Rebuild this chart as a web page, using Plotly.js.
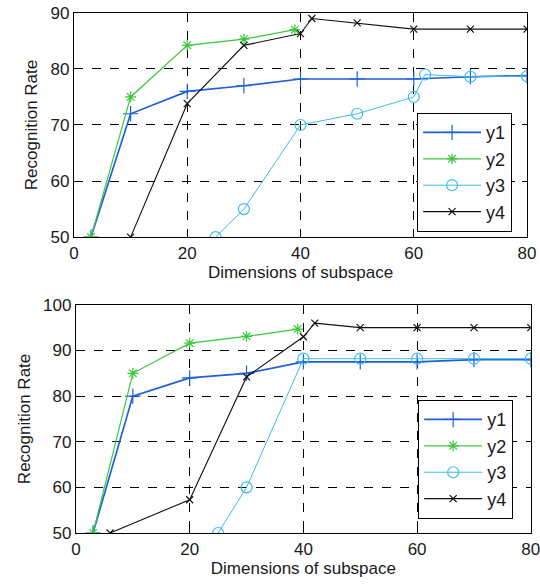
<!DOCTYPE html>
<html><head><meta charset="utf-8">
<script src="https://cdn.plot.ly/plotly-3.0.1.min.js"></script>
<style>html,body{margin:0;padding:0;background:#fff}#chart{width:540px;height:584px}</style>
</head><body><div id="chart"></div>
<script>
// Top panel
const topY1x = [3, 10, 20, 30, 40, 50, 60, 70, 80];
const topY1  = [50, 72, 76, 77, 78.2, 78.2, 78.2, 78.6, 78.8];
const topY2x = [3, 10, 20, 30, 39];
const topY2  = [50, 75, 84.2, 85.3, 87];
const topY3x = [25, 30, 40, 50, 60, 62, 70, 80];
const topY3  = [50, 55, 70, 72, 75, 79, 78.6, 78.7];
const topY4x = [10, 20, 30, 40, 42, 50, 60, 70, 80];
const topY4  = [50, 73.8, 84.2, 86.3, 89, 88.2, 87.1, 87.1, 87.1];
// Bottom panel
const botY1x = [3, 10, 20, 30, 40, 50, 60, 70, 80];
const botY1  = [50, 80, 84, 85, 87.5, 87.5, 87.5, 88, 88];
const botY2x = [3, 10, 20, 30, 39];
const botY2  = [50, 85, 91.6, 93.1, 94.7];
const botY3x = [25, 30, 40, 50, 60, 70, 80];
const botY3  = [50, 60, 88.2, 88.2, 88.2, 88.2, 88.2];
const botY4x = [6, 20, 30, 40, 42, 50, 60, 70, 80];
const botY4  = [50, 57.3, 84.2, 93, 96, 95, 95, 95, 95];

const names = ['y1', 'y2', 'y3', 'y4'];
const colors = ['#1f5fdc', '#3cc83c', '#3cbcec', '#111111'];
const symbols = ['cross-thin-open', 'asterisk-open', 'circle-open', 'x-thin-open'];
const sizes = [11, 9, 11, 7];
const widths = [1.7, 1.2, 1.0, 1.1];

function mk(x, y, i, xa, ya, leg) {
  return {x: x, y: y, name: names[i], type: 'scatter', mode: 'lines+markers',
    xaxis: xa, yaxis: ya, legend: leg,
    line: {color: colors[i], width: widths[i]},
    marker: {symbol: symbols[i], size: sizes[i], color: colors[i], line: {color: colors[i], width: 1.2}}};
}
const data = [
  mk(topY1x, topY1, 0, 'x', 'y', 'legend'),
  mk(topY2x, topY2, 1, 'x', 'y', 'legend'),
  mk(topY3x, topY3, 2, 'x', 'y', 'legend'),
  mk(topY4x, topY4, 3, 'x', 'y', 'legend'),
  mk(botY1x, botY1, 0, 'x2', 'y2', 'legend2'),
  mk(botY2x, botY2, 1, 'x2', 'y2', 'legend2'),
  mk(botY3x, botY3, 2, 'x2', 'y2', 'legend2'),
  mk(botY4x, botY4, 3, 'x2', 'y2', 'legend2')
];
const fam = 'Liberation Sans, Arial, sans-serif';
const tickFont = {family: fam, size: 17, color: '#1a1a1a'};
const titleFont = {family: fam, size: 17, color: '#1a1a1a'};
function ax(extra) {
  return Object.assign({showline: true, linecolor: '#000', linewidth: 1.2, mirror: 'allticks',
    ticks: 'inside', ticklen: 5, tickcolor: '#000', showgrid: true, gridcolor: '#000',
    griddash: 'dash', gridwidth: 1, zeroline: false, tickfont: tickFont, fixedrange: true,
    ticklabeloverflow: 'allow'}, extra);
}
const legFont = {family: fam, size: 18, color: '#1a1a1a'};
const layout = {
  width: 540, height: 584, paper_bgcolor: '#fff', plot_bgcolor: '#fff',
  margin: {l: 0, r: 0, t: 0, b: 0}, font: tickFont, showlegend: true,
  xaxis: ax({domain: [0.137, 0.976], range: [0, 80], dtick: 20, anchor: 'y',
    title: {text: 'Dimensions of subspace', font: titleFont, standoff: 4}}),
  yaxis: ax({domain: [0.594, 0.978], range: [50, 90], dtick: 10, anchor: 'x',
    title: {text: 'Recognition Rate', font: titleFont, standoff: 8}}),
  xaxis2: ax({domain: [0.1407, 0.983], range: [0, 80], dtick: 20, anchor: 'y2',
    title: {text: 'Dimensions of subspace', font: titleFont, standoff: 4}}),
  yaxis2: ax({domain: [0.0873, 0.478], range: [50, 100], dtick: 10, anchor: 'x2',
    title: {text: 'Recognition Rate', font: titleFont, standoff: 8}}),
  legend: {x: 0.772, y: 0.8065, xanchor: 'left', yanchor: 'top', bgcolor: '#fff',
    bordercolor: '#000', borderwidth: 1.2, font: legFont, tracegroupgap: 0, itemwidth: 58},
  legend2: {x: 0.774, y: 0.315, xanchor: 'left', yanchor: 'top', bgcolor: '#fff',
    bordercolor: '#000', borderwidth: 1.2, font: legFont, tracegroupgap: 0, itemwidth: 58}
};
Plotly.newPlot('chart', data, layout, {displayModeBar: false, staticPlot: true});
</script></body></html>
